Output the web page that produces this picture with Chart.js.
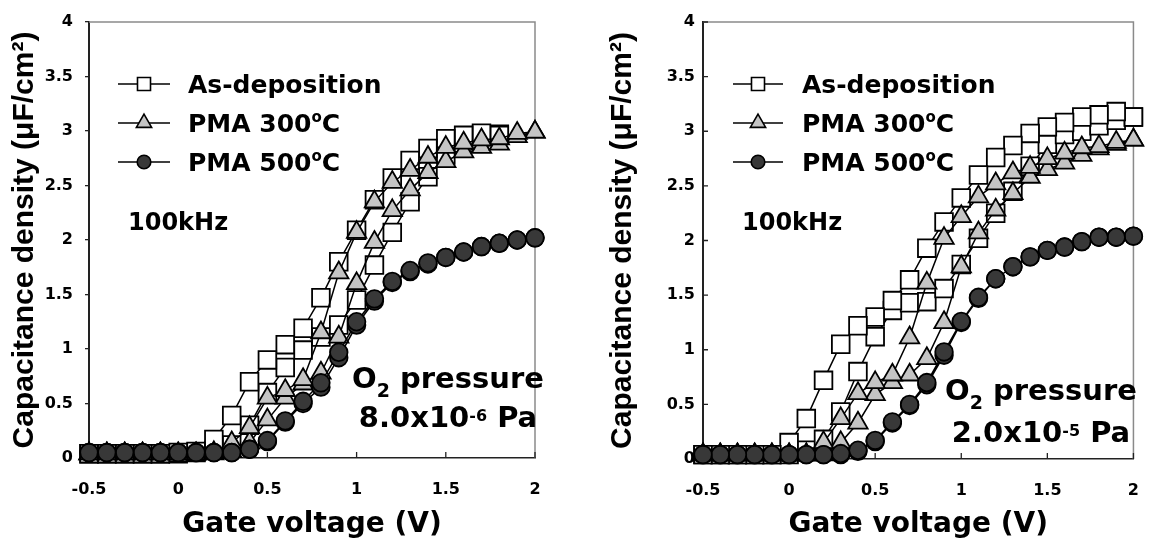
<!DOCTYPE html>
<html>
<head>
<meta charset="utf-8">
<script src="https://cdn.jsdelivr.net/npm/chart.js@4.4.1/dist/chart.umd.min.js"></script>
<style>
  html, body { margin: 0; padding: 0; background: #fff; }
  #wrap { position: relative; width: 1161px; height: 545px; overflow: hidden; background: #fff; }
  canvas { position: absolute; top: 0; }
  #cvA { left: 0; }
  #cvB { left: 580px; }
</style>
</head>
<body>
<div id="wrap">
  <canvas id="cvA" width="580" height="545"></canvas>
  <canvas id="cvB" width="581" height="545"></canvas>
</div>
<script>
// Gate voltage steps of the C-V sweep (V)
const voltage = [-0.5, -0.4, -0.3, -0.2, -0.1, 0.0, 0.1, 0.2, 0.3, 0.4, 0.5, 0.6, 0.7,
                 0.8, 0.9, 1.0, 1.1, 1.2, 1.3, 1.4, 1.5, 1.6, 1.7, 1.8, 1.9, 2.0];

// Axis ticks
const xTickValues = [-0.5, 0, 0.5, 1, 1.5, 2];
const xTickLabels = ['-0.5', '0', '0.5', '1', '1.5', '2'];
const yTickValues = [0, 0.5, 1, 1.5, 2, 2.5, 3, 3.5, 4];
const yTickLabels = ['0', '0.5', '1', '1.5', '2', '2.5', '3', '3.5', '4'];

// Sample names
const sampleNames = ['As-deposition', 'PMA 300°C', 'PMA 500°C'];

// Capacitance density (uF/cm2), O2 pressure 8.0x10^-6 Pa
// "up" = sweep from -0.5 V to 2 V, "down" = sweep back from 2 V to -0.5 V
const asDepA_up    = [0.04, 0.04, 0.04, 0.04, 0.04, 0.04, 0.05, 0.07, 0.12, 0.30, 0.60, 0.83, 0.99,
                      1.11, 1.22, 1.45, 1.77, 2.07, 2.35, 2.58, 2.78, 2.89, 2.96, 2.97, null, null];
const asDepA_down  = [0.04, 0.04, 0.04, 0.04, 0.04, 0.05, 0.06, 0.17, 0.39, 0.70, 0.90, 1.04, 1.19,
                      1.47, 1.80, 2.09, 2.37, 2.57, 2.73, 2.84, 2.93, 2.96, 2.98, 2.96, null, null];
const pma300A_up   = [0.04, 0.04, 0.04, 0.04, 0.04, 0.04, 0.04, 0.04, 0.06, 0.14, 0.35, 0.55, 0.68,
                      0.78, 1.11, 1.60, 1.98, 2.27, 2.46, 2.62, 2.72, 2.81, 2.85, 2.88, 2.95, 2.99];
const pma300A_down = [0.04, 0.04, 0.04, 0.04, 0.04, 0.04, 0.04, 0.05, 0.14, 0.28, 0.55, 0.62, 0.72,
                      1.15, 1.70, 2.07, 2.35, 2.53, 2.64, 2.76, 2.85, 2.89, 2.92, 2.93, 2.98, 2.99];
const pma500A_up   = [0.05, 0.05, 0.05, 0.05, 0.05, 0.05, 0.05, 0.05, 0.05, 0.08, 0.15, 0.33, 0.50,
                      0.65, 0.92, 1.22, 1.44, 1.61, 1.71, 1.78, 1.84, 1.89, 1.94, 1.97, 2.00, 2.02];
const pma500A_down = [0.05, 0.05, 0.05, 0.05, 0.05, 0.05, 0.05, 0.05, 0.05, 0.08, 0.16, 0.34, 0.52,
                      0.69, 0.97, 1.25, 1.46, 1.62, 1.72, 1.79, 1.84, 1.89, 1.94, 1.97, 2.00, 2.02];

// Capacitance density (uF/cm2), O2 pressure 2.0x10^-5 Pa
const asDepB_up    = [0.04, 0.04, 0.04, 0.04, 0.04, 0.04, 0.08, 0.18, 0.43, 0.80, 1.12, 1.36, 1.43,
                      1.44, 1.56, 1.78, 2.02, 2.25, 2.45, 2.68, 2.88, 2.97, 3.00, 3.05, 3.10, 3.13];
const asDepB_down  = [0.04, 0.04, 0.04, 0.04, 0.04, 0.15, 0.37, 0.72, 1.05, 1.22, 1.30, 1.45, 1.64,
                      1.93, 2.17, 2.39, 2.60, 2.76, 2.87, 2.98, 3.04, 3.08, 3.13, 3.15, 3.18, 3.13];
const pma300B_up   = [0.04, 0.04, 0.04, 0.04, 0.04, 0.04, 0.04, 0.04, 0.15, 0.33, 0.59, 0.70, 0.77,
                      0.92, 1.25, 1.76, 2.07, 2.28, 2.43, 2.58, 2.65, 2.71, 2.78, 2.84, 2.88, 2.92];
const pma300B_down = [0.04, 0.04, 0.04, 0.04, 0.04, 0.04, 0.04, 0.15, 0.37, 0.60, 0.70, 0.77, 1.11,
                      1.61, 2.02, 2.22, 2.40, 2.52, 2.62, 2.67, 2.75, 2.80, 2.85, 2.86, 2.90, 2.92];
const pma500B_up   = [0.04, 0.04, 0.04, 0.04, 0.04, 0.04, 0.04, 0.04, 0.04, 0.07, 0.16, 0.33, 0.49,
                      0.68, 0.95, 1.25, 1.47, 1.65, 1.76, 1.85, 1.91, 1.94, 1.99, 2.03, 2.03, 2.04];
const pma500B_down = [0.04, 0.04, 0.04, 0.04, 0.04, 0.04, 0.04, 0.04, 0.05, 0.08, 0.17, 0.34, 0.50,
                      0.70, 0.98, 1.26, 1.48, 1.65, 1.76, 1.85, 1.91, 1.94, 1.99, 2.03, 2.03, 2.04];

// In-plot notes: [text, role] with role 0 = normal, 1 = superscript, -1 = subscript
const legendText = [
  [['As-deposition', 0]],
  [['PMA 300', 0], ['o', 1], ['C', 0]],
  [['PMA 500', 0], ['o', 1], ['C', 0]]
];
const freqText = '100kHz';
const pressureA = [[['O', 0], ['2', -1], [' pressure', 0]], [['8.0x10', 0], ['-6', 1], [' Pa', 0]]];
const pressureB = [[['O', 0], ['2', -1], [' pressure', 0]], [['2.0x10', 0], ['-5', 1], [' Pa', 0]]];

// ---------------------------------------------------------------------------
const TXT_FONT = '"DejaVu Sans", "Liberation Sans", Arial, sans-serif';
const Y_TITLE_FONT = '"Liberation Sans", Arial, sans-serif';

const markerStyles = [
  { style: 'rect',     radius: 12.5, fill: '#ffffff', legendRadius: 9.2 },
  { style: 'triangle', radius: 11.2, fill: '#c4c4c4', legendRadius: 8.8 },
  { style: 'circle',   radius: 8.8,  fill: '#383838', legendRadius: 6.8 }
];

// A hysteresis loop: up sweep followed by the down sweep in reverse order
function loop(up, down) {
  const pts = voltage.map((v, i) => ({ x: v, y: up[i] }));
  for (let i = voltage.length - 1; i >= 0; i--) pts.push({ x: voltage[i], y: down[i] });
  return pts;
}

function drawRich(ctx, parts, x, baseY, sizes, align) {
  const sizeOf = r => r === 0 ? sizes.main : (r === 1 ? sizes.sup : sizes.sub);
  const dyOf = r => r === 0 ? 0 : (r === 1 ? sizes.supDy : sizes.subDy);
  const widths = parts.map(p => {
    ctx.font = 'bold ' + sizeOf(p[1]) + 'px ' + TXT_FONT;
    return ctx.measureText(p[0]).width;
  });
  const total = widths.reduce((a, b) => a + b, 0);
  let cx = align === 'center' ? x - total / 2 : x;
  ctx.textAlign = 'left';
  ctx.textBaseline = 'alphabetic';
  ctx.fillStyle = '#000';
  parts.forEach((p, i) => {
    ctx.font = 'bold ' + sizeOf(p[1]) + 'px ' + TXT_FONT;
    ctx.fillText(p[0], cx, baseY + dyOf(p[1]));
    cx += widths[i];
  });
}

const panelDecor = {
  id: 'panelDecor',
  beforeDatasetsDraw(chart, args, o) {
    const { ctx, chartArea: a, scales: { x, y } } = chart;
    ctx.save();
    // top and right frame
    ctx.strokeStyle = '#8a8a8a';
    ctx.lineWidth = 1.5;
    ctx.beginPath();
    ctx.moveTo(a.left, a.top);
    ctx.lineTo(a.right, a.top);
    ctx.lineTo(a.right, a.bottom);
    ctx.stroke();
    // inward tick marks
    ctx.strokeStyle = '#222';
    ctx.lineWidth = 1.3;
    ctx.beginPath();
    x.ticks.forEach(t => {
      const px = x.getPixelForValue(t.value);
      if (px > a.left + 2) { ctx.moveTo(px, a.bottom); ctx.lineTo(px, a.bottom - 6); }
    });
    if (o.yInward) {
      y.ticks.forEach(t => {
        const py = y.getPixelForValue(t.value);
        if (py < a.bottom - 2) { ctx.moveTo(a.left, py); ctx.lineTo(a.left + 5, py); }
      });
    }
    ctx.stroke();
    ctx.restore();
  },
  afterDraw(chart, args, o) {
    const ctx = chart.ctx;
    ctx.save();
    // legend: line with marker, then label
    o.legendRows.forEach((ry, i) => {
      const m = markerStyles[i];
      ctx.strokeStyle = '#000';
      ctx.lineWidth = 1.5;
      ctx.beginPath();
      ctx.moveTo(o.legendX0, ry);
      ctx.lineTo(o.legendX1, ry);
      ctx.stroke();
      ctx.fillStyle = m.fill;
      ctx.strokeStyle = '#000';
      ctx.lineWidth = 1.6;
      Chart.helpers.drawPoint(ctx, { pointStyle: m.style, radius: m.legendRadius, rotation: 0, borderWidth: 1.6 },
        (o.legendX0 + o.legendX1) / 2, ry);
      drawRich(ctx, legendText[i], o.legendTextX, ry + 9,
        { main: 25, sup: 15, supDy: -10, sub: 15, subDy: 6 }, 'left');
    });
    // measurement frequency
    ctx.fillStyle = '#000';
    ctx.font = 'bold 24px ' + TXT_FONT;
    ctx.textAlign = 'left';
    ctx.textBaseline = 'alphabetic';
    ctx.fillText(freqText, o.freqX, o.freqY);
    // oxygen pressure note
    o.pressure.forEach((line, i) => {
      drawRich(ctx, line, o.pressureX, o.pressureY[i],
        { main: 29, sup: 16, supDy: -6, sub: 19, subDy: 9 }, 'center');
    });
    ctx.restore();
  }
};

function makeChart(id, set, geo) {
  const series = [
    { name: sampleNames[2], up: set.pma500Up, down: set.pma500Down, m: markerStyles[2] },
    { name: sampleNames[1], up: set.pma300Up, down: set.pma300Down, m: markerStyles[1] },
    { name: sampleNames[0], up: set.asDepUp,  down: set.asDepDown,  m: markerStyles[0] }
  ];
  return new Chart(document.getElementById(id), {
    type: 'line',
    data: {
      datasets: series.map(s => ({
        label: s.name,
        data: loop(s.up, s.down),
        borderColor: '#000',
        borderWidth: 1.5,
        tension: 0,
        fill: false,
        clip: false,
        pointStyle: s.m.style,
        pointRadius: s.m.radius,
        pointHoverRadius: s.m.radius,
        pointBackgroundColor: s.m.fill,
        pointBorderColor: '#000',
        pointBorderWidth: 1.8
      }))
    },
    options: {
      responsive: false,
      animation: false,
      devicePixelRatio: 1,
      events: [],
      layout: { padding: { left: 0, top: 22, right: geo.padRight, bottom: 0 } },
      plugins: {
        legend: { display: false },
        tooltip: { enabled: false },
        panelDecor: geo.decor
      },
      scales: {
        x: {
          type: 'linear',
          min: -0.5,
          max: 2,
          afterBuildTicks: s => { s.ticks = xTickValues.map(v => ({ value: v })); },
          afterFit: s => { s.height = geo.xHeight; },
          ticks: {
            callback: (v, i) => xTickLabels[i],
            font: { family: TXT_FONT, size: 16, weight: 'bold' },
            color: '#000',
            padding: 22,
            maxRotation: 0,
            autoSkip: false
          },
          grid: { drawOnChartArea: false, drawTicks: false },
          border: { color: '#222', width: 1.6 },
          title: {
            display: true,
            text: 'Gate voltage (V)',
            font: { family: TXT_FONT, size: 28, weight: 'bold' },
            color: '#000',
            padding: { top: 0, bottom: 3 }
          }
        },
        y: {
          type: 'linear',
          min: 0,
          max: 4,
          afterBuildTicks: s => { s.ticks = yTickValues.map(v => ({ value: v })); },
          afterFit: s => { s.width = geo.yWidth; },
          ticks: {
            callback: (v, i) => yTickLabels[i],
            font: { family: TXT_FONT, size: 16, weight: 'bold' },
            color: '#000',
            padding: geo.yTickPad
          },
          grid: { drawOnChartArea: false, drawTicks: geo.yOutTicks, tickLength: 4, color: '#222', lineWidth: 1.3 },
          border: { color: '#222', width: 2 },
          title: {
            display: true,
            text: 'Capacitance density (μF/cm²)',
            font: { family: Y_TITLE_FONT, size: 30, weight: 'bold' },
            color: '#000',
            padding: { top: geo.yTitlePad, bottom: 0 }
          }
        }
      }
    },
    plugins: [panelDecor]
  });
}

makeChart('cvA', {
  asDepUp: asDepA_up, asDepDown: asDepA_down,
  pma300Up: pma300A_up, pma300Down: pma300A_down,
  pma500Up: pma500A_up, pma500Down: pma500A_down
}, {
  padRight: 45, xHeight: 87, yWidth: 89, yTickPad: 12, yOutTicks: true, yTitlePad: 7,
  decor: {
    yInward: false,
    legendRows: [84, 123, 162], legendX0: 118, legendX1: 170, legendTextX: 188,
    freqX: 128, freqY: 230,
    pressure: pressureA, pressureX: 448, pressureY: [388, 427]
  }
});

makeChart('cvB', {
  asDepUp: asDepB_up, asDepDown: asDepB_down,
  pma300Up: pma300B_up, pma300Down: pma300B_down,
  pma500Up: pma500B_up, pma500Down: pma500B_down
}, {
  padRight: 12, xHeight: 86, yWidth: 123, yTickPad: 8, yOutTicks: false, yTitlePad: 25,
  decor: {
    yInward: true,
    legendRows: [84, 123, 162], legendX0: 153, legendX1: 203, legendTextX: 222,
    freqX: 162, freqY: 230,
    pressure: pressureB, pressureX: 461, pressureY: [400, 442]
  }
});
</script>
</body>
</html>
